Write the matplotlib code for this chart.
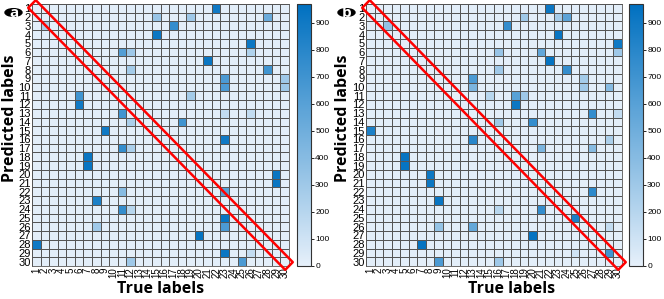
import numpy as np
import matplotlib
matplotlib.use('Agg')
from matplotlib import pyplot as plt
from matplotlib.colors import LinearSegmentedColormap
from matplotlib.patches import Polygon, Circle

# notable cells: (predicted row, true column, count)
rows_a = [1, 2, 2, 2, 3, 3, 4, 5, 6, 6, 6, 7, 8, 8, 9, 9, 10, 10, 11, 11, 12,
          13, 13, 13, 14, 14, 15, 16, 17, 17, 18, 19, 20, 21, 22, 22, 23, 24,
          24, 25, 26, 26, 27, 28, 29, 29, 30, 30]
cols_a = [22, 15, 19, 28, 2, 17, 15, 26, 11, 12, 26, 21, 12, 28, 23, 30, 23,
          30, 6, 19, 6, 11, 23, 26, 12, 18, 9, 23, 11, 12, 7, 7, 29, 29, 11,
          23, 8, 11, 12, 23, 8, 23, 20, 1, 23, 26, 12, 25]
vals_a = [900, 330, 300, 520, 250, 750, 920, 920, 620, 300, 230, 930, 280,
          700, 650, 300, 650, 300, 700, 280, 900, 700, 150, 150, 250, 700, 900,
          900, 750, 250, 930, 930, 930, 930, 400, 600, 850, 750, 200, 940, 300,
          650, 940, 900, 920, 150, 300, 650]

rows_b = [1, 2, 2, 2, 3, 3, 4, 5, 6, 6, 6, 7, 8, 8, 9, 9, 10, 10, 10, 11, 11,
          11, 12, 13, 13, 14, 14, 15, 16, 16, 17, 17, 18, 19, 20, 21, 22, 23,
          24, 24, 25, 26, 26, 26, 27, 28, 29, 29, 30, 30]
cols_b = [22, 19, 23, 24, 3, 17, 23, 30, 16, 21, 30, 22, 16, 24, 13, 26, 13,
          26, 29, 15, 18, 19, 18, 27, 30, 16, 20, 1, 13, 29, 21, 27, 5, 5, 8,
          8, 27, 9, 16, 21, 25, 9, 13, 29, 20, 7, 29, 25, 9, 16]
vals_b = [920, 300, 280, 580, 350, 750, 930, 900, 330, 560, 300, 950, 300,
          750, 650, 280, 450, 300, 400, 200, 600, 300, 920, 750, 150, 300, 750,
          850, 800, 250, 450, 400, 940, 940, 920, 920, 780, 930, 200, 750, 850,
          350, 550, 150, 950, 950, 700, 100, 650, 300]

n_classes = 30
labels = [str(i) for i in range(1, n_classes + 1)]
base_count = 15
vmax = 970

cmap = LinearSegmentedColormap.from_list('cm_blue', ['#e6f0fa', '#0070c0'])
tick_font = ['Liberation Sans Narrow', 'Liberation Sans', 'DejaVu Sans']


def build_matrix(rows, cols, vals):
    m = np.full((n_classes, n_classes), float(base_count))
    for r, c, v in zip(rows, cols, vals):
        m[r - 1, c - 1] = v
    return m


def draw_panel(fig, mat, ax_rect, cb_rect, letter, badge_xy, ylab_x, xlab_x):
    ax = fig.add_axes(ax_rect)
    mesh = ax.pcolormesh(np.arange(n_classes + 1) - 0.5,
                         np.arange(n_classes + 1) - 0.5, mat, cmap=cmap,
                         vmin=0, vmax=vmax, edgecolors='#555555',
                         linewidth=0.45)
    ax.set_xlim(-0.5, n_classes - 0.5)
    ax.set_ylim(n_classes - 0.5, -0.5)
    ax.set_xticks(range(n_classes))
    ax.set_yticks(range(n_classes))
    ax.set_xticklabels(labels, rotation=90, fontsize=7, family=tick_font)
    ax.set_yticklabels(labels, fontsize=8, family=tick_font)
    ax.tick_params(length=0, pad=1)
    for s in ax.spines.values():
        s.set_color('#555555')
        s.set_linewidth(0.6)

    # red box around the diagonal
    w = 0.44
    lo, hi = -0.5, n_classes - 0.5
    box = Polygon([(lo + w, lo - w), (hi + w, hi - w), (hi - w, hi + w),
                   (lo - w, lo + w)], closed=True, fill=False,
                  edgecolor='#ff0000', linewidth=1.8, joinstyle='round',
                  clip_on=False, zorder=5)
    ax.add_patch(box)

    cax = fig.add_axes(cb_rect)
    cb = fig.colorbar(mesh, cax=cax, ticks=range(0, 1000, 100))
    cb.outline.set_edgecolor('#333333')
    cb.outline.set_linewidth(0.8)
    cax.tick_params(labelsize=6, length=2, width=0.6, pad=1)
    for t in cax.get_yticklabels():
        t.set_family(tick_font)

    fig.text(ylab_x, 1 - 118 / 299, 'Predicted labels', rotation=90,
             ha='center', va='center', fontsize=11.5, fontweight='bold',
             family='Open Sans')
    fig.text(xlab_x, 1 - 289 / 299, 'True labels', ha='center',
             va='center', fontsize=11.5, fontweight='bold', family='Open Sans')

    bx, by = badge_xy
    fig.patches.append(Circle((bx / 664, 1 - by / 299), 8.5 / 664,
                              transform=fig.transFigure, color='black',
                              zorder=10))
    fig.text(bx / 664, 1 - by / 299 - 0.003, letter, ha='center',
             va='center', color='white', fontsize=11, fontweight='bold',
             family='Open Sans', zorder=11)


fig = plt.figure(figsize=(6.64, 2.99), dpi=100)

mat_a = build_matrix(rows_a, cols_a, vals_a)
mat_b = build_matrix(rows_b, cols_b, vals_b)

bottom = 1 - 266 / 299
height = 262 / 299
draw_panel(fig, mat_a, [32 / 664, bottom, 257 / 664, height],
           [297 / 664, bottom, 14 / 664, height], 'a', (13.5, 12.5),
           10 / 664, 160.5 / 664)
draw_panel(fig, mat_b, [366 / 664, bottom, 256 / 664, height],
           [629 / 664, bottom, 14 / 664, height], 'b', (346.5, 12.5),
           343 / 664, 512 / 664)

fig.savefig('out.png', dpi=100)
